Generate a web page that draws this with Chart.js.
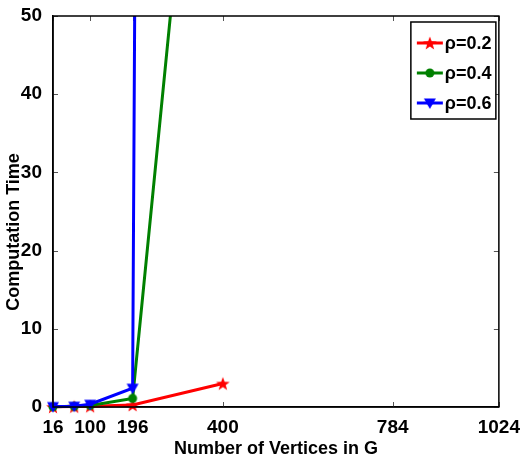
<!DOCTYPE html>
<html>
<head>
<meta charset="utf-8">
<script src="https://cdn.jsdelivr.net/npm/chart.js@4"></script>
<style>
  html, body { margin: 0; padding: 0; background: #fff; }
  #wrap { width: 521px; height: 462px; }
</style>
</head>
<body>
<div id="wrap"><canvas id="c" width="521" height="462"></canvas></div>
<script>
// Graph sizes (number of vertices) and measured computation times
const vertexCounts = [16, 64, 100, 196, 400];
const timeRho02 = [0.02, 0.05, 0.1, 0.25, 3.0];
const timeRho04 = [0.03, 0.08, 0.2, 1.1, 118];
const timeRho06 = [0.05, 0.1, 0.35, 2.4, 2100];
const seriesLabels = ['\u03C1=0.2', '\u03C1=0.4', '\u03C1=0.6'];
const seriesColors = ['#ff0000', '#008000', '#0000ff'];
const xTickValues = [16, 100, 196, 400, 784, 1024];
const yTickValues = [0, 10, 20, 30, 40, 50];
const xTitle = 'Number of Vertices in G';
const yTitle = 'Computation Time';

const tickFont = { family: "'Liberation Sans', Arial, sans-serif", size: 19, weight: 'bold' };
const titleFont = "bold 18px 'Liberation Sans', Arial, sans-serif";
const legendFont = "bold 18px 'Liberation Sans', Arial, sans-serif";

// Marker images
function makeMarker(kind, color) {
  const s = 16;
  const cv = document.createElement('canvas');
  cv.width = s; cv.height = s;
  const g = cv.getContext('2d');
  g.fillStyle = color;
  const c = s / 2;
  g.beginPath();
  if (kind === 'star') {
    const R = 7.2, r = 3;
    for (let i = 0; i < 10; i++) {
      const a = -Math.PI / 2 + i * Math.PI / 5;
      const rad = i % 2 === 0 ? R : r;
      const px = c + rad * Math.cos(a), py = c + rad * Math.sin(a) + 0.6;
      i === 0 ? g.moveTo(px, py) : g.lineTo(px, py);
    }
    g.closePath();
  } else if (kind === 'circle') {
    g.arc(c, c, 4.5, 0, Math.PI * 2);
  } else {
    g.moveTo(c - 6, c - 4.5);
    g.lineTo(c + 6, c - 4.5);
    g.lineTo(c, c + 6);
    g.closePath();
  }
  g.fill();
  return cv;
}
const markers = [
  makeMarker('star', seriesColors[0]),
  makeMarker('circle', seriesColors[1]),
  makeMarker('triangle', seriesColors[2])
];

function series(values) {
  return vertexCounts.map((x, i) => ({ x: x, y: values[i] }));
}

const decorPlugin = {
  id: 'decor',
  beforeDatasetsDraw(chart) {
    const { ctx, chartArea: a, scales: { x, y } } = chart;
    ctx.save();
    ctx.strokeStyle = '#555';
    ctx.lineWidth = 1;
    const tl = 5;
    xTickValues.forEach(v => {
      const px = Math.round(x.getPixelForValue(v)) + 0.5;
      ctx.beginPath();
      ctx.moveTo(px, a.bottom); ctx.lineTo(px, a.bottom - tl);
      ctx.moveTo(px, a.top); ctx.lineTo(px, a.top + tl);
      ctx.stroke();
    });
    yTickValues.forEach(v => {
      const py = Math.round(y.getPixelForValue(v)) + 0.5;
      ctx.beginPath();
      ctx.moveTo(a.left, py); ctx.lineTo(a.left + tl, py);
      ctx.moveTo(a.right, py); ctx.lineTo(a.right - tl, py);
      ctx.stroke();
    });
    ctx.restore();
  },
  afterDraw(chart) {
    const { ctx, chartArea: a } = chart;
    ctx.save();
    // box around plot
    ctx.strokeStyle = '#000';
    ctx.lineWidth = 1.5;
    ctx.strokeRect(a.left, a.top, a.right - a.left, a.bottom - a.top);

    // axis titles
    ctx.fillStyle = '#000';
    ctx.font = titleFont;
    ctx.textAlign = 'center';
    ctx.textBaseline = 'middle';
    ctx.fillText(xTitle, (a.left + a.right) / 2, 449);
    ctx.translate(14, 232);
    ctx.rotate(-Math.PI / 2);
    ctx.fillText(yTitle, 0, 0);
    ctx.restore();

    // legend
    ctx.save();
    const bx = a.right - 88, by = a.top + 6, bw = 85, bh = 97;
    ctx.fillStyle = '#fff';
    ctx.fillRect(bx, by, bw, bh);
    ctx.strokeStyle = '#000';
    ctx.lineWidth = 1.5;
    ctx.strokeRect(bx, by, bw, bh);
    ctx.font = legendFont;
    ctx.textAlign = 'left';
    ctx.textBaseline = 'middle';
    chart.data.datasets.forEach((ds, i) => {
      const ry = by + 21 + i * 30;
      ctx.strokeStyle = ds.borderColor;
      ctx.lineWidth = 3;
      ctx.beginPath();
      ctx.moveTo(bx + 6, ry); ctx.lineTo(bx + 32, ry);
      ctx.stroke();
      const m = ds.pointStyle;
      ctx.drawImage(m, bx + 19 - m.width / 2, ry - m.height / 2);
      ctx.fillStyle = '#000';
      ctx.fillText(ds.label, bx + 34, ry + 1);
    });
    ctx.restore();
  }
};

new Chart(document.getElementById('c'), {
  type: 'line',
  data: {
    datasets: [0, 1, 2].map(i => ({
      label: seriesLabels[i],
      data: series([timeRho02, timeRho04, timeRho06][i]),
      borderColor: seriesColors[i],
      backgroundColor: seriesColors[i],
      borderWidth: 3,
      pointStyle: markers[i],
      pointRadius: 6,
      tension: 0,
      clip: { left: 12, right: 12, top: 0, bottom: 12 },
      order: 3 - i
    }))
  },
  options: {
    responsive: false,
    animation: false,
    devicePixelRatio: 1,
    layout: { padding: { left: 0, right: 21, top: 16, bottom: 0 } },
    plugins: { legend: { display: false }, tooltip: { enabled: false } },
    scales: {
      x: {
        type: 'linear',
        min: 16,
        max: 1024,
        afterBuildTicks: s => { s.ticks = xTickValues.map(v => ({ value: v })); },
        afterFit: s => { s.height = 55; },
        grid: { display: false },
        border: { display: true, color: '#000', width: 1.5 },
        ticks: { color: '#000', font: tickFont, padding: 1, maxRotation: 0, autoSkip: false,
                 callback: v => String(v) }
      },
      y: {
        min: 0,
        max: 50,
        afterBuildTicks: s => { s.ticks = yTickValues.map(v => ({ value: v })); },
        afterFit: s => { s.width = 53; },
        grid: { display: false },
        border: { display: true, color: '#000', width: 1.5 },
        ticks: { color: '#000', font: tickFont, padding: 3, callback: v => String(v) }
      }
    }
  },
  plugins: [decorPlugin]
});
</script>
</body>
</html>
